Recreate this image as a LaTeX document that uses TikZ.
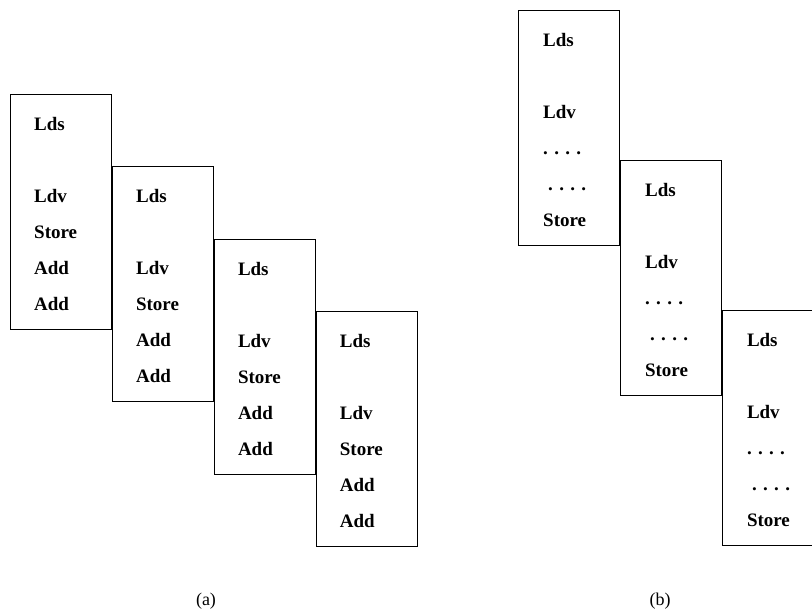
\documentclass[tikz,border=0pt]{standalone}
\usepackage{fontspec}
\setmainfont{Liberation Serif}
\usetikzlibrary{positioning}

\begin{document}
\begin{tikzpicture}[
  x=1pt, y=-1pt,
  font=\bfseries\fontsize{19}{36}\selectfont,
  frame/.style={rectangle, draw, line width=0.9pt, minimum width=101pt, minimum height=235pt, inner sep=0pt, anchor=north west},
  code/.style={align=left, inner sep=0pt, anchor=north west},
  caption/.style={font=\fontsize{18}{20}\selectfont, anchor=base}
]
  \clip (0,0) rectangle (812,611);

  % (a)
  \node [frame] (a1) at (10,94) {};
  \node [frame] (a2) at ([yshift=-72pt]a1.north east) {};
  \node [frame] (a3) at ([yshift=-73pt]a2.north east) {};
  \node [frame] (a4) at ([yshift=-72pt]a3.north east) {};
  \node [code] (a1code) at ([xshift=24pt, yshift=-23pt]a1.north west) {Lds\\[36pt]Ldv\\Store\\Add\\Add};
  \node [code] (a2code) at ([xshift=24pt, yshift=-23pt]a2.north west) {Lds\\[36pt]Ldv\\Store\\Add\\Add};
  \node [code] (a3code) at ([xshift=24pt, yshift=-23pt]a3.north west) {Lds\\[36pt]Ldv\\Store\\Add\\Add};
  \node [code] (a4code) at ([xshift=24pt, yshift=-23pt]a4.north west) {Lds\\[36pt]Ldv\\Store\\Add\\Add};
  \node [caption] (acap) at (206,605) {(a)};

  % (b)
  \node [frame] (b1) at (518,10) {};
  \node [frame] (b2) at ([yshift=-150pt]b1.north east) {};
  \node [frame] (b3) at ([yshift=-150pt]b2.north east) {};
  \node [code] (b1code) at ([xshift=25pt, yshift=-23pt]b1.north west) {Lds\\[36pt]Ldv\\. . . .\\\hspace*{5pt}. . . .\\Store};
  \node [code] (b2code) at ([xshift=25pt, yshift=-23pt]b2.north west) {Lds\\[36pt]Ldv\\. . . .\\\hspace*{5pt}. . . .\\Store};
  \node [code] (b3code) at ([xshift=25pt, yshift=-23pt]b3.north west) {Lds\\[36pt]Ldv\\. . . .\\\hspace*{5pt}. . . .\\Store};
  \node [caption] (bcap) at (660,605) {(b)};
\end{tikzpicture}
\end{document}
